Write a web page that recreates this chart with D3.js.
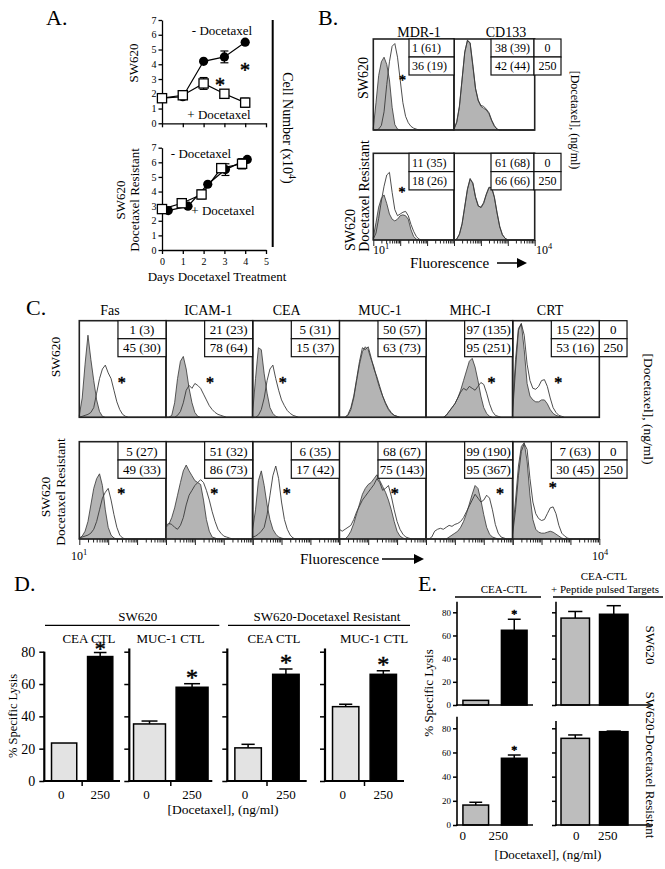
<!DOCTYPE html>
<html><head><meta charset="utf-8">
<script src="https://cdn.jsdelivr.net/npm/d3@7/dist/d3.min.js"></script>
<style>
html,body{margin:0;padding:0;background:#fff;}
svg{display:block;}
text{font-family:"Liberation Serif","Times New Roman",Times,serif;fill:#000;}
text.star{font-family:"Liberation Serif","DejaVu Serif",serif;fill:#000;stroke:#000;stroke-width:0.5px;}
</style></head>
<body><svg id="fig" width="665" height="869"></svg>
<script>
// ================= DATA =================
// ---- Panel A: cell number (x10^4) vs days ----
const xTicksA = [0,1,2,3,4,5];
const yTicksA = [0,1,2,3,4,5,6,7];
const swDaysMinus = [0,1,2,3,4];
const swDaysPlus = [0,1,2,3,4];
const swMinusDoc = [1.7,1.8,4.2,4.5,5.5];
const swMinusErr = [0,0,0,0.4,0];
const swPlusDoc = [1.7,1.9,2.7,2.0,1.4];
const swPlusErr = [0.15,0.15,0.4,0.15,0.3];
const resDaysMinus = [0.3,1.25,2.2,3.05,4.1];
const resDaysPlus = [0,0.95,1.9,2.85,3.85];
const resMinusDoc = [2.7,3.0,4.5,5.5,6.2];
const resMinusErr = [0,0,0,0.4,0];
const resPlusDoc = [2.8,3.2,3.8,5.6,5.9];
const resPlusErr = [0.15,0.1,0.3,0.25,0.35];

// ---- Flow histograms: bins in log10 fluorescence ----
const logBins = [1.0,1.1,1.2,1.3,1.4,1.5,1.6,1.7,1.8,1.9,2.0,2.1,2.2,2.3,2.4,2.5,2.6,2.7,2.8,2.9,3.0,3.1,3.2,3.3,3.4,3.5,3.6,3.7,3.8,3.9,4.0];

// Panel B
const bMarkers = ["MDR-1","CD133"];
const bTop0 = ["1 (61)","38 (39)"];
const bTop250 = ["36 (19)","42 (44)"];
const bRes0 = ["11 (35)","61 (68)"];
const bRes250 = ["18 (26)","66 (66)"];
const bTopGray = [
  [2,30,60,75,80,72,55,25,6,1],
  [1,8,25,55,85,99,95,70,45,32,26,24,22,18,10,4,1]];
const bTopLine = [
  [0,0,1,5,20,50,75,92,95,80,55,30,15,8,4,2,1],
  [1,9,26,56,86,98,96,72,46,33,27,26,23,19,11,5,1]];
const bResGray = [
  [3,20,38,48,52,42,30,24,22,24,28,29,28,24,12,4,1],
  [0,1,6,18,38,58,70,66,50,40,37,42,52,60,61,50,32,16,6,2]];
const bResLine = [
  [1,8,25,45,62,75,78,55,35,28,30,32,33,28,18,10,4,1],
  [0,1,7,19,39,59,71,65,49,39,38,43,53,61,60,49,31,15,6,2]];

// Panel C
const cMarkers = ["Fas","ICAM-1","CEA","MUC-1","MHC-I","CRT"];
const cTop0 = ["1 (3)","21 (23)","5 (31)","50 (57)","97 (135)","15 (22)"];
const cTop250 = ["45 (30)","78 (64)","15 (37)","63 (73)","95 (251)","53 (16)"];
const cRes0 = ["5 (27)","51 (32)","6 (35)","68 (67)","99 (190)","7 (63)"];
const cRes250 = ["49 (33)","86 (73)","17 (42)","75 (143)","95 (367)","30 (45)"];
const doseCol = ["0","250"];
const cTopGray = [
  [2,20,55,85,60,38,18,6,1],
  [0,0,2,15,40,58,63,50,30,15,5,1],
  [5,40,72,70,45,25,10,4,1],
  [0,0,0,2,8,20,38,55,68,73,70,60,52,40,30,22,14,8,4,2,1],
  [0,0,0,0,0,0,0,2,6,10,14,20,28,38,48,58,61,52,38,22,10,4,1],
  [10,60,92,97,70,35,22,18,16,16,18,18,14,8,4,2,1]];
const cTopLine = [
  [0,1,2,3,5,10,25,40,50,54,46,40,28,16,8,3,1],
  [0,0,0,0,2,6,15,28,33,30,35,33,30,24,18,12,8,5,3,2,1],
  [0,0,2,8,20,38,50,54,40,28,18,12,7,4,2,1],
  [0,0,0,3,10,22,40,58,72,70,73,62,50,42,32,22,15,9,5,2,1],
  [0,0,0,0,0,0,0,2,6,10,14,20,26,30,28,32,30,28,32,36,34,25,14,6,2,1],
  [5,50,90,97,85,55,38,30,29,32,38,39,32,20,10,5,2,1]];
const cResGray = [
  [1,3,8,18,35,52,62,67,55,30,12,4,1],
  [12,15,22,32,45,58,70,76,70,65,60,58,56,40,20,8,2,1],
  [10,30,60,70,55,35,20,10,5,2,1],
  [0,0,0,3,8,16,26,36,46,52,56,58,62,66,60,54,48,40,30,18,8,3,1],
  [0,0,0,0,0,0,0,0,2,4,6,8,12,18,26,36,46,55,52,40,25,12,5,2,1],
  [8,40,75,95,99,80,45,20,10,7,6,6,7,8,7,5,3,1]];
const cResLine = [
  [1,2,3,4,6,10,18,30,42,48,52,40,25,12,4,1],
  [14,16,15,12,10,14,22,35,45,50,55,58,61,58,50,40,28,18,10,6,3,2,1],
  [2,3,5,8,12,25,45,65,75,62,38,20,10,4,1],
  [10,8,10,12,14,20,28,34,40,44,48,52,56,62,58,50,52,55,44,30,18,10,5,2,1],
  [0,0,2,8,10,11,10,12,14,13,15,16,18,22,28,34,40,46,42,38,40,45,42,30,15,6,2,1],
  [5,30,65,90,98,92,62,38,26,21,19,20,26,32,33,26,14,6,3,1]];

// Panel D: % specific lysis
const doseLabels = ["0","250"];
const dGroups = ["SW620","SW620-Docetaxel Resistant"];
const dTargets = ["CEA CTL","MUC-1 CTL","CEA CTL","MUC-1 CTL"];
const dLysis0 = [23.5,35.3,20.5,46];
const dLysis0Err = [0,1.8,2.2,1.5];
const dLysis250 = [77,58,66,66];
const dLysis250Err = [2.5,2.2,3.3,2.2];
const lysisTicks = [0,20,40,60,80];

// Panel E
const eRows = ["SW620","SW620-Docetaxel Resistant"];
const eCtl0 = [4,16.5];
const eCtl0Err = [0,2.3];
const eCtl250 = [64.5,55.2];
const eCtl250Err = [9.5,2.7];
const ePep0 = [75,71.7];
const ePep0Err = [5.7,2.8];
const ePep250 = [78.3,77.2];
const ePep250Err = [7.4,0.5];

// ================= DRAWING =================
const svg = d3.select('#fig');
const FONT = '"Liberation Serif","Times New Roman",Times,serif';

function txt(x,y,s,size,anchor){
  return svg.append('text').attr('x',x).attr('y',y).attr('font-size',size)
    .attr('text-anchor',anchor||'start').text(s);
}
function rtext(x,y,s,size,angle){
  return svg.append('text').attr('transform',`translate(${x},${y}) rotate(${angle})`)
    .attr('text-anchor','middle').attr('dominant-baseline','central').attr('font-size',size).text(s);
}
function styleAxis(sel,fs,sw){
  sel.attr('font-family',FONT).attr('font-size',fs);
  sel.selectAll('line').attr('stroke','#000').attr('stroke-width',sw);
  sel.selectAll('path').attr('stroke','#000').attr('stroke-width',sw);
  sel.selectAll('text').attr('fill','#000');
  return sel;
}
function star(x,y,size){ // (x,y) = visual centre of the asterisk
  return svg.append('text').attr('class','star').attr('x',x).attr('y',y+size*0.47).attr('font-size',size)
    .attr('text-anchor','middle').text('*');
}
function arrow(x1,x2,y){
  svg.append('line').attr('x1',x1).attr('x2',x2-8).attr('y1',y).attr('y2',y).attr('stroke','#000').attr('stroke-width',1.5);
  svg.append('path').attr('d',`M${x2-10},${y-5}L${x2},${y}L${x2-10},${y+5}Z`).attr('fill','#000');
}
function powerLabel(x,y,base,exp,size){
  const t = svg.append('text').attr('x',x).attr('y',y).attr('font-size',size);
  t.append('tspan').text(base);
  t.append('tspan').attr('dy',-size*0.4).attr('font-size',size*0.7).text(exp);
}

// ---------- Panel A ----------
function panelA(top,bottom,mx,my,me,px,py,pe,xLabels){
  const x = d3.scaleLinear().domain([0,5]).range([162,266]);
  const y = d3.scaleLinear().domain([0,7]).range([bottom,top]);
  const g = svg.append('g');
  const ya = d3.axisLeft(y).tickValues(yTicksA).tickSize(3.5).tickSizeOuter(0).tickPadding(2).tickFormat(d3.format('d'));
  styleAxis(g.append('g').attr('transform','translate(162,0)').call(ya),10,1.3);
  const xa = d3.axisBottom(x).tickValues(xTicksA).tickSize(4).tickSizeOuter(0).tickPadding(4).tickFormat(d3.format('d'));
  if(!xLabels) xa.tickFormat('');
  styleAxis(g.append('g').attr('transform',`translate(0,${bottom})`).call(xa),10,1.3);
  const line = d3.line().x(d=>x(d[0])).y(d=>y(d[1]));
  const m = mx.map((d,i)=>[d,my[i],me[i]]);
  const p = px.map((d,i)=>[d,py[i],pe[i]]);
  g.append('path').attr('d',line(m)).attr('fill','none').attr('stroke','#000').attr('stroke-width',1.2);
  g.append('path').attr('d',line(p)).attr('fill','none').attr('stroke','#000').attr('stroke-width',1.2);
  m.concat(p).filter(d=>d[2]>0).forEach(d=>{
    const cx=x(d[0]), y1=y(d[1]-d[2]), y2=y(d[1]+d[2]);
    g.append('line').attr('x1',cx).attr('x2',cx).attr('y1',y1).attr('y2',y2).attr('stroke','#000').attr('stroke-width',1.2);
    [y1,y2].forEach(yy=>g.append('line').attr('x1',cx-4).attr('x2',cx+4).attr('y1',yy).attr('y2',yy).attr('stroke','#000').attr('stroke-width',1.2));
  });
  g.selectAll('circle.m').data(m).enter().append('circle').attr('cx',d=>x(d[0])).attr('cy',d=>y(d[1])).attr('r',4.6).attr('fill','#000');
  g.selectAll('rect.p').data(p).enter().append('rect').attr('x',d=>x(d[0])-4.6).attr('y',d=>y(d[1])-4.6)
    .attr('width',9.2).attr('height',9.2).attr('fill','#fff').attr('stroke','#000').attr('stroke-width',1.3);
  return {x,y};
}
txt(46,25,'A.',22);
const aTop = panelA(20,123.3,swDaysMinus,swMinusDoc,swMinusErr,swDaysPlus,swPlusDoc,swPlusErr,false);
const aBot = panelA(147.7,250,resDaysMinus,resMinusDoc,resMinusErr,resDaysPlus,resPlusDoc,resPlusErr,true);
txt(222,35,'- Docetaxel',13,'middle');
txt(219,119,'+ Docetaxel',13,'middle');
star(aTop.x(3.99),aTop.y(3.75),20);
star(aTop.x(2.79),aTop.y(2.73),20);
txt(201,158,'- Docetaxel',13,'middle');
txt(223,215,'+ Docetaxel',13,'middle');
rtext(133,63,'SW620',13,-90);
rtext(120,200,'SW620',13,-90);
rtext(134,200,'Docetaxel Resistant',13,-90);
txt(217,281,'Days Docetaxel Treatment',13,'middle');
svg.append('line').attr('x1',272.7).attr('x2',272.7).attr('y1',20).attr('y2',247).attr('stroke','#000').attr('stroke-width',2);
{
  const t = svg.append('text').attr('transform','translate(288,128) rotate(90)').attr('text-anchor','middle')
    .attr('dominant-baseline','central').attr('font-size',14);
  t.append('tspan').text('Cell Number (x10');
  t.append('tspan').attr('dy',-5).attr('font-size',10).text('4');
  t.append('tspan').attr('dy',5).text(')');
}

// ---------- Histogram helpers ----------
function histBox(x0,y0,w,h,gray,outline,ticks){
  const x = d3.scaleLog().domain([10,1e4]).range([x0,x0+w]);
  const y = d3.scaleLinear().domain([0,100]).range([y0+h,y0]);
  const g = svg.append('g');
  const pts = arr => logBins.map((b,i)=>[Math.pow(10,b), arr[i]||0]);
  g.append('path').datum(pts(gray))
    .attr('d',d3.area().x(d=>x(d[0])).y0(y(0)).y1(d=>y(d[1])))
    .attr('fill','#b4b4b4').attr('stroke','#333').attr('stroke-width',0.8);
  g.append('path').datum(pts(outline))
    .attr('d',d3.line().x(d=>x(d[0])).y(d=>y(d[1])))
    .attr('fill','none').attr('stroke','#3a3a3a').attr('stroke-width',0.9);
  g.append('rect').attr('x',x0).attr('y',y0).attr('width',w).attr('height',h)
    .attr('fill','none').attr('stroke','#222').attr('stroke-width',1.6);
  if(ticks){
    const ax = d3.axisBottom(x).ticks(10).tickFormat('').tickSize(3).tickSizeOuter(0);
    const ag = g.append('g').attr('transform',`translate(0,${y0+h})`).call(ax);
    ag.select('.domain').remove();
    ag.selectAll('.tick line').attr('stroke','#222').attr('stroke-width',1)
      .attr('y2',d=>Math.abs(Math.log10(d)-Math.round(Math.log10(d)))<1e-6?6:3.5);
  }
  return {x,y};
}
function drawTable(x,y,colW,rowH,rows,fs,align){
  const g = svg.append('g');
  rows.forEach((r,ri)=>{
    let cx = x;
    r.forEach((cell,ci)=>{
      g.append('rect').attr('x',cx).attr('y',y+ri*rowH).attr('width',colW[ci]).attr('height',rowH)
        .attr('fill','#fff').attr('stroke','#111').attr('stroke-width',1.2);
      const left = (ci===0 && align==='left');
      g.append('text').attr('x',left?cx+3:cx+colW[ci]/2).attr('y',y+ri*rowH+rowH/2).attr('dy','0.36em')
        .attr('text-anchor',left?'start':'middle').attr('font-size',fs).text(cell);
      cx += colW[ci];
    });
  });
}

// ---------- Panel B ----------
txt(318,25,'B.',22);
const bX = [373.3,454], bW = 80.7;
const bTopY = 39, bTopH = 91, bResY = 153.3, bResH = 86.7;
const bTitleX = [419,506];
bMarkers.forEach((m,i)=>{
  txt(bTitleX[i],37,m,14,'middle');
  const t = histBox(bX[i],bTopY,bW,bTopH,bTopGray[i],bTopLine[i],false);
  const r = histBox(bX[i],bResY,bW,bResH,bResGray[i],bResLine[i],true);
  if(i===0){ star(t.x(Math.pow(10,2.09)),t.y(56.8),14); star(r.x(Math.pow(10,2.07)),r.y(57.7),14); }
});
drawTable(409,bTopY,[45],18,[[bTop0[0]],[bTop250[0]]],12,'left');
drawTable(491,bTopY,[43,27],18,[[bTop0[1],doseCol[0]],[bTop250[1],doseCol[1]]],12,'center');
drawTable(409,bResY,[45],18.3,[[bRes0[0]],[bRes250[0]]],12,'left');
drawTable(491,bResY,[43,27],18.3,[[bRes0[1],doseCol[0]],[bRes250[1],doseCol[1]]],12,'center');
rtext(363,78,'SW620',14,-90);
rtext(350.5,230,'SW620',14,-90);
rtext(364,196,'Docetaxel Resistant',14,-90);
rtext(575,120,'[Docetaxel], (ng/ml)',12,90);
powerLabel(373,254,'10','1',12);
powerLabel(536,254,'10','4',12);
txt(410,268,'Fluorescence',15);
arrow(497,527,263);

// ---------- Panel C ----------
txt(26,315,'C.',22);
const cX0 = 79.3, cW = 86.67;
const cTopY = 320.7, cTopH = 96.6, cResY = 441.7, cResH = 97.3;
const cTitleX = [110,208.3,286.7,380,470,550];
const cStarTop = [2.47,2.52,2.04,null,3.27,2.58];
const cStarRes = [2.45,2.67,2.18,2.92,3.56,2.39];
const cStarResY = [48.6,48.6,48.6,48.6,48.6,55.5];
cMarkers.forEach((m,i)=>{
  const x0 = cX0 + i*cW;
  txt(cTitleX[i],315,m,14,'middle');
  const t = histBox(x0,cTopY,cW,cTopH,cTopGray[i],cTopLine[i],false);
  const r = histBox(x0,cResY,cW,cResH,cResGray[i],cResLine[i],true);
  if(cStarTop[i]!==null) star(t.x(Math.pow(10,cStarTop[i])),t.y(38.6),16);
  star(r.x(Math.pow(10,cStarRes[i])),r.y(cStarResY[i]),16);
});
cMarkers.forEach((m,i)=>{
  const xr = cX0 + (i+1)*cW;
  if(i<5){
    drawTable(xr-48,cTopY,[48],18,[[cTop0[i]],[cTop250[i]]],13,'center');
    drawTable(xr-48,cResY,[48],18.3,[[cRes0[i]],[cRes250[i]]],13,'center');
  } else {
    drawTable(xr-48,cTopY,[48,27.7],18,[[cTop0[i],doseCol[0]],[cTop250[i],doseCol[1]]],13,'center');
    drawTable(xr-48,cResY,[48,27.7],18.3,[[cRes0[i],doseCol[0]],[cRes250[i],doseCol[1]]],13,'center');
  }
});
rtext(55,357,'SW620',13.5,-90);
rtext(45,497,'SW620',13.5,-90);
rtext(60,492,'Docetaxel Resistant',13.5,-90);
rtext(648,409,'[Docetaxel], (ng/ml)',13.5,90);
powerLabel(71,560,'10','1',12);
powerLabel(592,560,'10','4',12);
txt(300,564,'Fluorescence',15);
arrow(382,424,559);

// ---------- Bar chart helper (D & E) ----------
function barChart(o){
  const g = svg.append('g');
  const y = d3.scaleLinear().domain([0,80]).range([o.yBase,o.y80]);
  const x = d3.scaleBand().domain(doseLabels).range(o.band).paddingInner(o.pi).paddingOuter(o.po);
  const bw = x.bandwidth();
  doseLabels.forEach((d,i)=>{
    const v=o.vals[i], e=o.errs[i];
    if(e>0){
      const cx = x(d)+bw/2;
      g.append('line').attr('x1',cx).attr('x2',cx).attr('y1',y(v)).attr('y2',y(v+e)).attr('stroke','#000').attr('stroke-width',1.5);
      g.append('line').attr('x1',cx-bw*0.25).attr('x2',cx+bw*0.25).attr('y1',y(v+e)).attr('y2',y(v+e)).attr('stroke','#000').attr('stroke-width',1.5);
    }
    g.append('rect').attr('x',x(d)).attr('y',y(v)).attr('width',bw).attr('height',y(0)-y(v))
      .attr('fill',o.fills[i]).attr('stroke','#000').attr('stroke-width',1.5);
  });
  const ya = d3.axisLeft(y).tickValues(lysisTicks).tickSize(o.tick).tickSizeOuter(0).tickPadding(o.pad);
  if(!o.yLabels) ya.tickFormat('');
  const yg = styleAxis(g.append('g').attr('transform',`translate(${o.ax},0)`).call(ya),o.yFont,1.5);
  yg.select('.domain').remove();
  g.append('line').attr('x1',o.ax).attr('x2',o.ax).attr('y1',y(0)+1).attr('y2',y(o.yTop)).attr('stroke','#000').attr('stroke-width',o.lw);
  g.append('line').attr('x1',o.ax-1).attr('x2',o.axEnd).attr('y1',y(0)).attr('y2',y(0)).attr('stroke','#000').attr('stroke-width',o.lw);
  if(o.midTick){
    const mx = (x(doseLabels[0])+bw+x(doseLabels[1]))/2;
    g.append('line').attr('x1',mx).attr('x2',mx).attr('y1',y(0)).attr('y2',y(0)+5).attr('stroke','#000').attr('stroke-width',1.5);
  }
  if(o.xLabels){
    const xa = d3.axisBottom(x).tickSize(0).tickPadding(o.xPad);
    const xg = styleAxis(g.append('g').attr('transform',`translate(0,${o.yBase})`).call(xa),o.xFont,1);
    xg.select('.domain').remove();
    xg.selectAll('.tick text').attr('dx',(d,i)=>o.xDx[i]);
  }
  return {x,y,bw};
}

// ---------- Panel D ----------
txt(14,591,'D.',22);
const dAxes = [44.3,129.3,227.3,325];
const dEnds = [120,212.3,306.7,404];
const dPI = [0.3,0.25,0.3,0.3], dPO = [0.2,0.1,0.2,0.2];
const dTitleX = [89,170.7,274,374];
dTargets.forEach((t,i)=>{
  const c = barChart({yBase:781,y80:651.7,band:[dAxes[i],dEnds[i]],pi:dPI[i],po:dPO[i],
    vals:[dLysis0[i],dLysis250[i]],errs:[dLysis0Err[i],dLysis250Err[i]],fills:['#e3e3e3','#000'],
    tick:5,pad:4,yLabels:i===0,yFont:14,ax:dAxes[i],axEnd:dEnds[i],yTop:i===0?80:82,lw:2.2,
    midTick:true,xLabels:true,xPad:9,xFont:13,xDx:[-3,0]});
  txt(dTitleX[i],643,t,13,'middle');
  star(c.x('250')+c.bw/2,c.y(dLysis250[i]+dLysis250Err[i])-(i===0?7:10),i===0?22:24);
});
txt(137.7,621,dGroups[0],13,'middle');
txt(327,621,dGroups[1],13,'middle');
svg.append('line').attr('x1',45).attr('x2',219.3).attr('y1',625.3).attr('y2',625.3).attr('stroke','#000').attr('stroke-width',1.3);
svg.append('line').attr('x1',228).attr('x2',410).attr('y1',625.3).attr('y2',625.3).attr('stroke','#000').attr('stroke-width',1.3);
rtext(13,716,'% Specific Lysis',12.5,-90);
txt(223,814,'[Docetaxel], (ng/ml)',13.5,'middle');

// ---------- Panel E ----------
txt(418,591,'E.',22);
const eRowBase = [705,825], eRow80 = [612.3,728.3];
const eColAx = [457,556], eColEnd = [533,653], eColBand = [[457,533],[556,633]];
const eColPI = [0.333,0.26], eColPO = [0.154,0.13];
const eYTop = [[89,89],[89.5,86]];
const eDx = [[-13,-16],[1,-6]];
eRows.forEach((r,ri)=>{
  [[eCtl0,eCtl0Err,eCtl250,eCtl250Err],[ePep0,ePep0Err,ePep250,ePep250Err]].forEach((arr,ci)=>{
    const c = barChart({yBase:eRowBase[ri],y80:eRow80[ri],band:eColBand[ci],pi:eColPI[ci],po:eColPO[ci],
      vals:[arr[0][ri],arr[2][ri]],errs:[arr[1][ri],arr[3][ri]],fills:['#bdbdbd','#000'],
      tick:4,pad:2,yLabels:ci===0,yFont:9,ax:eColAx[ci],axEnd:eColEnd[ci],yTop:eYTop[ri][ci],lw:1.6,
      midTick:false,xLabels:ri===1,xPad:6,xFont:13,xDx:eDx[ci]});
    if(ci===0) star(c.x('250')+c.bw/2,c.y(arr[2][ri]+arr[3][ri])-7,12);
  });
});
txt(504,593,'CEA-CTL',11,'middle');
txt(604,580,'CEA-CTL',11,'middle');
txt(605,593,'+ Peptide pulsed Targets',11,'middle');
svg.append('line').attr('x1',455).attr('x2',541).attr('y1',597).attr('y2',597).attr('stroke','#000').attr('stroke-width',1.3);
svg.append('line').attr('x1',553).attr('x2',663).attr('y1',597).attr('y2',597).attr('stroke','#000').attr('stroke-width',1.3);
rtext(428,693,'% Specific Lysis',13,-90);
rtext(650,645,eRows[0],13,90);
rtext(650,765,eRows[1],13,90);
txt(548,859,'[Docetaxel], (ng/ml)',13,'middle');
</script></body></html>
